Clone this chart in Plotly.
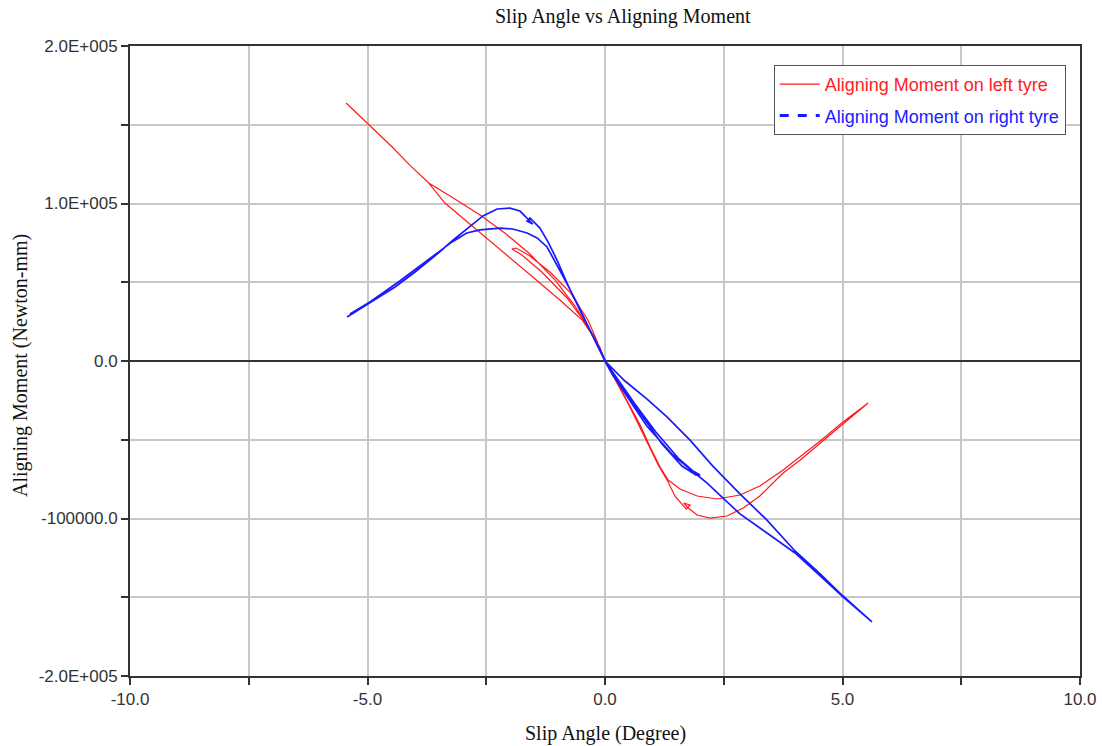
import plotly.graph_objects as go

# ---- data (slip angle in degrees, moment in N-mm) ----
left_slip = [-5.45, -4.95, -4.48, -4.11, -3.71,
             -3.16, -2.63, -2.11, -1.58, -1.05, -0.63, -0.32, -0.11, 0.0,
             0.15, 0.32, 0.53, 0.74, 0.95, 1.16, 1.33,
             1.58, 1.94, 2.36, 2.84, 3.26, 3.75,
             4.11, 4.53, 5.01, 5.54,
             5.01, 4.53, 4.11, 3.75,
             3.26, 2.91, 2.57, 2.21, 1.94, 1.75, 1.66, 1.79, 1.71, 1.47, 1.33,
             1.12, 0.91, 0.69, 0.48, 0.27, 0.0,
             -0.11, -0.38, -0.80, -1.33, -1.75, -1.96, -1.87, -1.58, -1.16, -0.74, -0.36, -0.15,
             -0.48, -0.95, -1.52, -2.00, -2.48, -2.95, -3.37, -3.71]
left_moment = [163800, 149200, 135900, 124400, 113000,
               102900, 92700, 81300, 67900, 51400, 34900, 19700, 7000, 0,
               -7600, -17100, -27900, -40600, -54600, -67300, -75600,
               -81300, -85700, -87600, -85100, -79400, -69200,
               -60900, -50800, -38700, -26700,
               -40000, -52100, -62900, -71100,
               -85700, -93300, -98400, -99700, -97800, -93300, -90200, -91400, -94000, -85700, -76800,
               -66000, -52700, -39400, -26700, -15200, 0,
               8900, 22900, 40000, 56500, 67300, 71100, 71700, 66700, 56500, 43800, 26000, 11400,
               26000, 38700, 53300, 65400, 78100, 89500, 100300, 113000]

right_slip = [-5.43, -5.16, -4.84, -4.42, -4.00, -3.58, -3.22, -2.91,
              -2.57, -2.27, -2.00, -1.79, -1.68, -1.52, -1.64, -1.58, -1.37, -1.20, -1.01, -0.80, -0.53, -0.25, 0.0,
              0.42, 0.88, 1.31, 1.79, 2.27, 2.84, 3.41, 4.00, 4.53, 5.01, 5.62,
              5.01, 4.53, 4.00,
              3.41, 2.84, 2.15, 1.43, 0.88, 0.42, 0.15, 0.0,
              0.25, 0.63, 1.07, 1.54, 1.85, 2.00, 1.92, 1.62, 1.20, 0.78, 0.40, 0.06,
              -0.11, -0.32, -0.57, -0.82, -1.03, -1.22, -1.43, -1.64, -1.94, -2.21, -2.63, -2.91,
              -3.22, -3.68, -4.32, -4.95, -5.37]
right_moment = [27900, 33000, 38700, 47000, 56500, 66700, 76200, 83800,
                92100, 96500, 97100, 95200, 92100, 87000, 88900, 90800, 84400, 75600, 64100, 49500, 32400, 15200, 0,
                -12700, -24100, -35600, -50200, -66700, -84400, -101000, -120600, -135200, -149200, -165700,
                -149800, -136500, -121900,
                -109200, -97100, -77500, -59700, -41300, -21000, -8300, 0,
                -10800, -27300, -45100, -61600, -69800, -72400, -72400, -66700, -52700, -34900, -18400, -3200,
                7600, 19700, 35600, 50200, 61600, 72400, 78100, 81300, 83800, 84400, 83200, 81300,
                75600, 65400, 50800, 37500, 29800]

y_tick_vals = [-200000, -100000, 0, 100000, 200000]
y_tick_text = ["-2.0E+005", "-100000.0", "0.0", "1.0E+005", "2.0E+005"]
x_tick_vals = [-10, -5, 0, 5, 10]
x_tick_text = ["-10.0", "-5.0", "0.0", "5.0", "10.0"]

RED = "#ff1a1a"
BLUE = "#1a1aff"
SERIF = "Liberation Serif, Times New Roman, serif"
SANS = "Liberation Sans, Arial, sans-serif"

fig = go.Figure()
fig.add_trace(go.Scatter(x=left_slip, y=left_moment, mode="lines",
                         line=dict(color=RED, width=1.2), legendgroup="a",
                         name='<span style="color:#ff2020">Aligning Moment on left tyre</span>',
                         showlegend=True))
fig.add_trace(go.Scatter(x=right_slip, y=right_moment, mode="lines",
                         line=dict(color=BLUE, width=1.7),
                         showlegend=False, name="right"))
fig.add_trace(go.Scatter(x=[None], y=[None], mode="lines",
                         line=dict(color=BLUE, width=3, dash="dash"), legendgroup="b",
                         name='<span style="color:#2020ff">Aligning Moment on right tyre</span>',
                         showlegend=True))

fig.update_layout(
    width=1102, height=746,
    margin=dict(l=130, r=22, t=46, b=70, autoexpand=False),
    paper_bgcolor="white", plot_bgcolor="white",
    showlegend=True,
    legend=dict(x=0.985, y=0.970, xanchor="right", yanchor="top",
                bgcolor="white", bordercolor="#555", borderwidth=1,
                font=dict(family="Liberation Sans Narrow, Arial Narrow, " + SANS, size=18),
                tracegroupgap=5, itemwidth=40),
    annotations=[
        dict(text="Slip Angle vs Aligning Moment", x=0.519, y=1.0, xref="paper", yref="paper",
             yanchor="bottom", yshift=16, showarrow=False,
             font=dict(family=SERIF, size=20, color="#111")),
        dict(text="Slip Angle (Degree)", x=0.5, y=0, xref="paper", yref="paper",
             yanchor="middle", yshift=-57, showarrow=False,
             font=dict(family=SERIF, size=20, color="#111")),
        dict(text="Aligning Moment (Newton-mm)", x=0, y=0.492, xref="paper", yref="paper",
             xanchor="center", yanchor="middle", xshift=-110, textangle=-90, showarrow=False,
             font=dict(family=SERIF, size=20, color="#111")),
    ],
)

fig.update_xaxes(range=[-10, 10], tickvals=x_tick_vals, ticktext=x_tick_text,
                 automargin=False,
                 showgrid=True, gridcolor="#c8c8c8", gridwidth=1.5,
                 minor=dict(dtick=2.5, tick0=0, showgrid=True, gridcolor="#c8c8c8", gridwidth=1.5,
                            ticks="outside", ticklen=7, tickcolor="#333"),
                 ticks="outside", ticklen=7, tickcolor="#333", tickwidth=1.5,
                 zeroline=False, showline=True, linecolor="#333", linewidth=2, mirror=True,
                 tickfont=dict(family=SANS, size=17, color="#333"))
fig.update_yaxes(range=[-200000, 200000], tickvals=y_tick_vals, ticktext=y_tick_text,
                 automargin=False,
                 showgrid=True, gridcolor="#c8c8c8", gridwidth=1.5,
                 minor=dict(dtick=50000, tick0=0, showgrid=True, gridcolor="#c8c8c8", gridwidth=1.5,
                            ticks="outside", ticklen=7, tickcolor="#333"),
                 ticks="outside", ticklen=7, tickcolor="#333", tickwidth=1.5,
                 zeroline=True, zerolinecolor="#333", zerolinewidth=2,
                 showline=True, linecolor="#333", linewidth=2, mirror=True,
                 tickfont=dict(family=SANS, size=17, color="#333"))

fig.write_html("out.html")
